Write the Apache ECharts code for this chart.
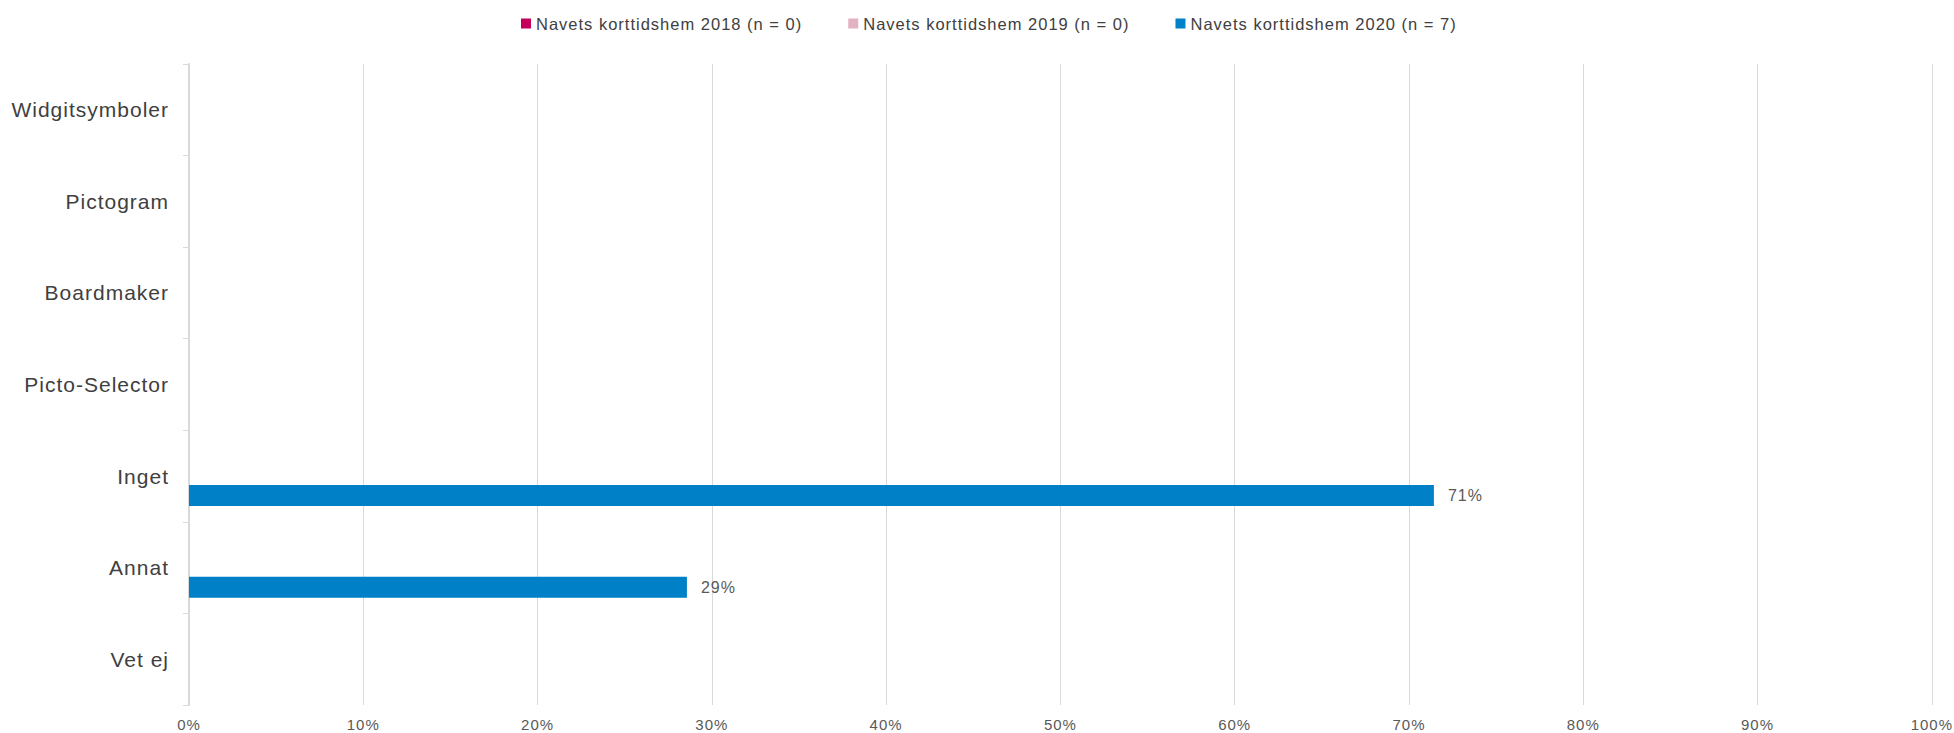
<!DOCTYPE html>
<html>
<head>
<meta charset="utf-8">
<script src="https://cdn.jsdelivr.net/npm/echarts@6/dist/echarts.min.js"></script>
<style>html,body{margin:0;padding:0;background:#fff}#c{width:1954px;height:733px}#c text{letter-spacing:1px}</style>
</head>
<body>
<div id="c"></div>
<script>
const categories = ['Widgitsymboler','Pictogram','Boardmaker','Picto-Selector','Inget','Annat','Vet ej'];
const seriesNames = ['Navets korttidshem 2018 (n = 0)','Navets korttidshem 2019 (n = 0)','Navets korttidshem 2020 (n = 7)'];
const values2018 = [0,0,0,0,0,0,0];
const values2019 = [0,0,0,0,0,0,0];
const values2020 = [0,0,0,0,71.43,28.57,0];
const xTicks = {min:0, max:100, interval:10};
const colors = ['#C6005A','#E3B1C4','#0080C6'];

const chart = echarts.init(document.getElementById('c'), null, {renderer:'svg'});
const font = 'Liberation Sans, Arial, sans-serif';
function mk(name, data, color, showLabel){
  return {
    name, type:'bar', data, barWidth:21, barGap:'-7%',
    itemStyle:{color},
    label:{show:showLabel, position:'right', distance:14, color:'#595959', fontSize:16, fontFamily:font,
      formatter:p=> p.value ? Math.round(p.value)+'%' : ''},
    emphasis:{disabled:true}
  };
}
chart.setOption({
  animation:false,
  color:colors,
  legend:{top:10, left:516, itemWidth:10, itemHeight:10, itemGap:77, icon:'rect',
    textStyle:{fontSize:16.5, color:'#404040', fontFamily:font}, data:seriesNames},
  grid:{left:189, right:22, top:64, bottom:28, containLabel:false},
  xAxis:{type:'value', min:xTicks.min, max:xTicks.max, interval:xTicks.interval,
    axisLine:{show:false}, axisTick:{show:false},
    splitLine:{lineStyle:{color:'#d9d9d9', width:1}},
    axisLabel:{formatter:'{value}%', color:'#595959', fontSize:15, margin:12, fontFamily:font}},
  yAxis:{type:'category', data:categories, inverse:true,
    axisLine:{lineStyle:{color:'#d9d9d9', width:2}},
    axisTick:{show:true, length:6, lineStyle:{color:'#d9d9d9'}},
    axisLabel:{color:'#404040', fontSize:21, margin:20, fontFamily:font, padding:[0,0,3,0]}},
  series:[mk(seriesNames[0], values2018, colors[0], false), mk(seriesNames[1], values2019, colors[1], false), mk(seriesNames[2], values2020, colors[2], true)]
});
</script>
</body>
</html>
